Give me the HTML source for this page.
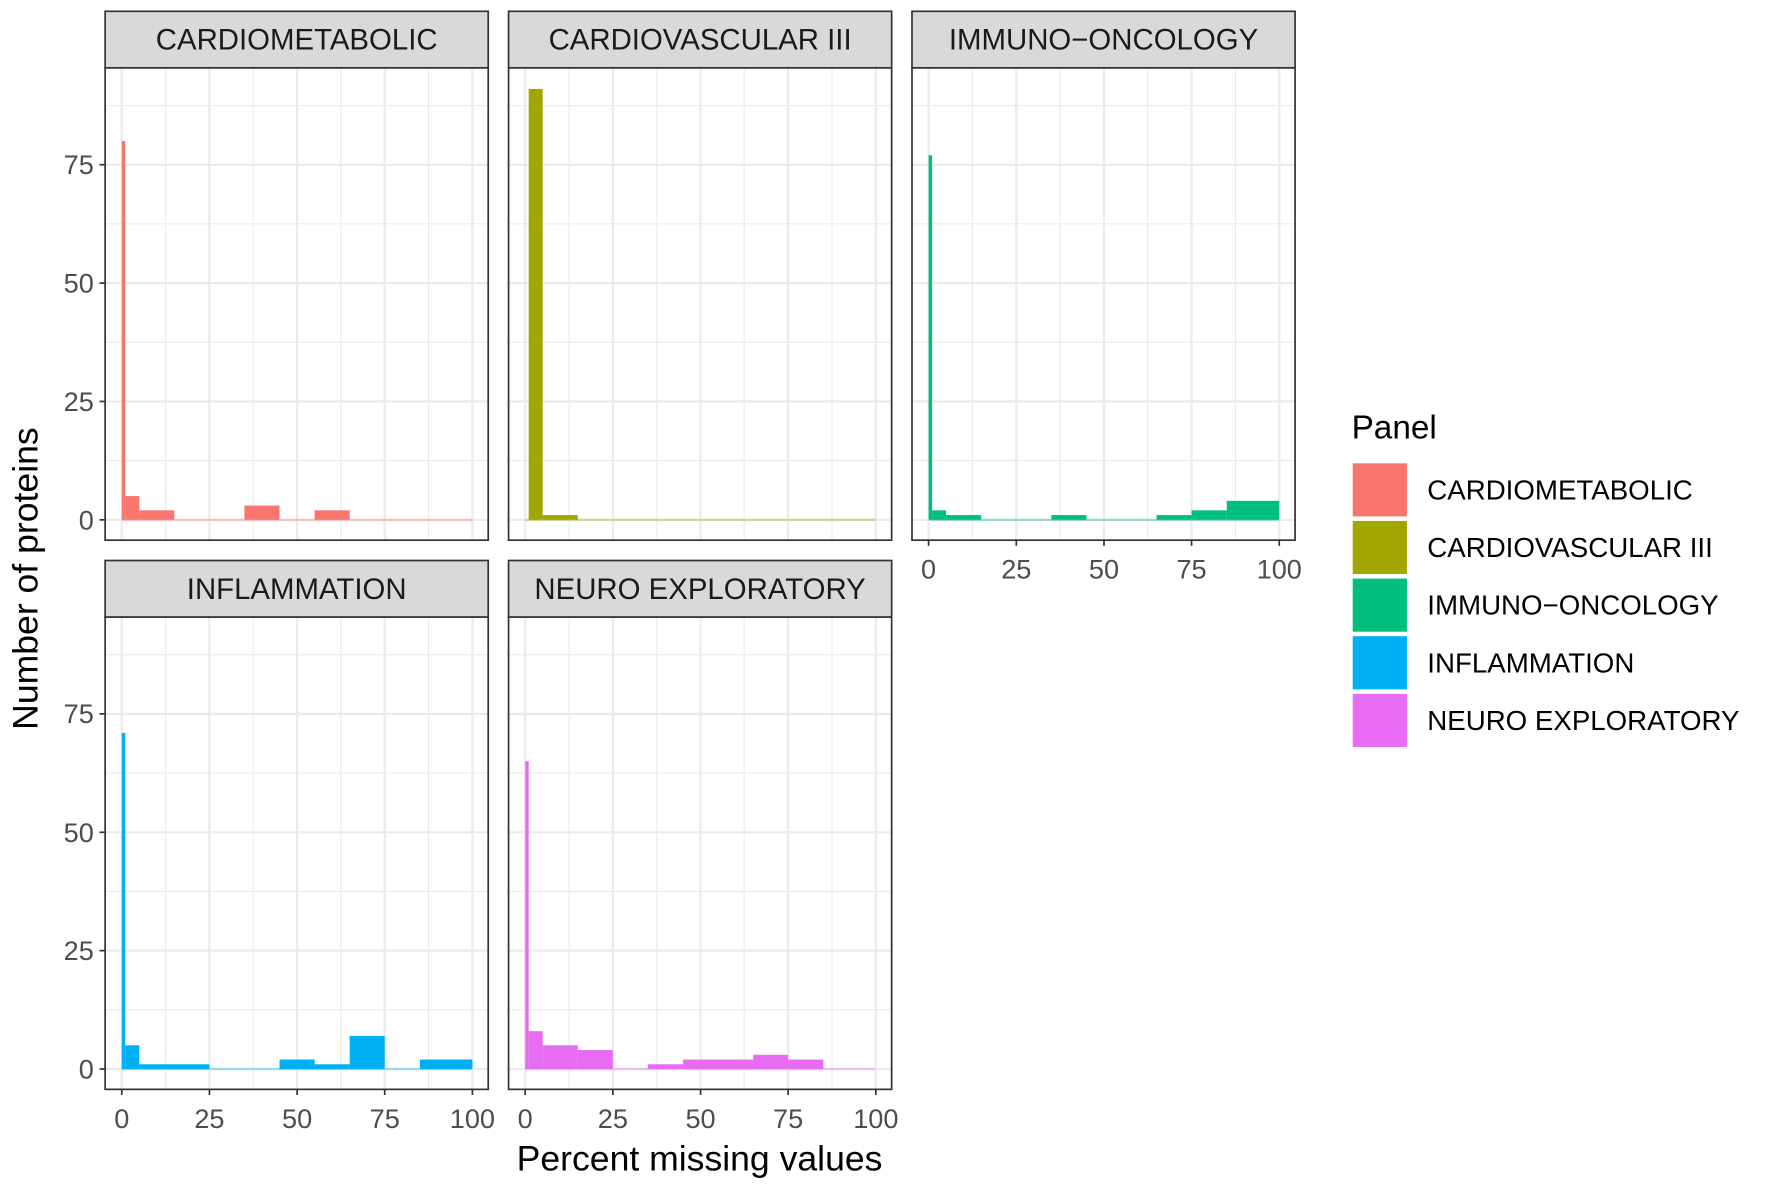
<!DOCTYPE html>
<html><head><meta charset="utf-8"><style>
html,body{margin:0;padding:0;background:#fff;}
svg{display:block;}
text{font-family:"Liberation Sans",sans-serif;}
.g1{stroke:#ebebeb;stroke-width:2;}
.g2{stroke:#ebebeb;stroke-width:1;}
.yt{font-size:24px;fill:#4d4d4d;text-anchor:end;}
.xt{font-size:24px;fill:#4d4d4d;text-anchor:middle;}
.st{font-size:26px;fill:#1a1a1a;text-anchor:middle;}
.lg{font-size:24.5px;fill:#000;}
</style></head><body>
<svg width="1772" height="1187" viewBox="0 0 1568 1050.4" xmlns="http://www.w3.org/2000/svg">
<rect width="1568" height="1051" fill="#fff"/>
<defs>
<g id="grid">
<rect x="0" y="0" width="339" height="418" fill="#fff"/>
<line class="g2" x1="0" x2="339" y1="347.6" y2="347.6"/><line class="g2" x1="0" x2="339" y1="242.9" y2="242.9"/><line class="g2" x1="0" x2="339" y1="138.1" y2="138.1"/><line class="g2" x1="0" x2="339" y1="33.4" y2="33.4"/>
<line class="g2" y1="0" y2="418" x1="53.5" x2="53.5"/><line class="g2" y1="0" y2="418" x1="131.1" x2="131.1"/><line class="g2" y1="0" y2="418" x1="208.5" x2="208.5"/><line class="g2" y1="0" y2="418" x1="286.2" x2="286.2"/>
<line class="g1" x1="0" x2="339" y1="400" y2="400"/><line class="g1" x1="0" x2="339" y1="295.25" y2="295.25"/><line class="g1" x1="0" x2="339" y1="190.5" y2="190.5"/><line class="g1" x1="0" x2="339" y1="85.75" y2="85.75"/>
<line class="g1" y1="0" y2="418" x1="14.7" x2="14.7"/><line class="g1" y1="0" y2="418" x1="92.3" x2="92.3"/><line class="g1" y1="0" y2="418" x1="169.9" x2="169.9"/><line class="g1" y1="0" y2="418" x1="247.4" x2="247.4"/><line class="g1" y1="0" y2="418" x1="325" x2="325"/>
</g>
<g id="frame">
<rect x="0" y="0" width="339" height="418" fill="none" stroke="#333" stroke-width="1.5"/>
<rect x="0" y="-50" width="339" height="50" fill="#d9d9d9" stroke="#333" stroke-width="1.5"/>
</g>
<g id="yax">
<g stroke="#333" stroke-width="1.5"><line x1="-5" x2="0" y1="400" y2="400"/><line x1="-5" x2="0" y1="295.25" y2="295.25"/><line x1="-5" x2="0" y1="190.5" y2="190.5"/><line x1="-5" x2="0" y1="85.75" y2="85.75"/></g>
<text class="yt" x="-10" y="408.5">0</text><text class="yt" x="-10" y="303.5">25</text><text class="yt" x="-10" y="199">50</text><text class="yt" x="-10" y="94">75</text>
</g>
<g id="xax">
<g stroke="#333" stroke-width="1.5"><line y1="418" y2="423" x1="14.7" x2="14.7"/><line y1="418" y2="423" x1="92.3" x2="92.3"/><line y1="418" y2="423" x1="169.9" x2="169.9"/><line y1="418" y2="423" x1="247.4" x2="247.4"/><line y1="418" y2="423" x1="325" x2="325"/></g>
<text class="xt" x="14.7" y="452">0</text><text class="xt" x="92.3" y="452">25</text><text class="xt" x="169.9" y="452">50</text><text class="xt" x="247.4" y="452">75</text><text class="xt" x="325" y="452">100</text>
</g>
</defs>

<g transform="translate(93,60)">
<use href="#grid"/>
<g fill="#F8766D">
<line x1="14.7" x2="325" y1="400" y2="400" stroke="#F8766D" stroke-opacity="0.35" stroke-width="2"/>
<rect x="14.7" y="64.8" width="3.1" height="335.2"/>
<rect x="17.8" y="379" width="12.4" height="21"/>
<rect x="30.2" y="391.6" width="31" height="8.4"/>
<rect x="123.3" y="387.4" width="31" height="12.6"/>
<rect x="185.4" y="391.6" width="31" height="8.4"/>
</g>
<use href="#frame"/><use href="#yax"/>
<text class="st" x="169.5" y="-16">CARDIOMETABOLIC</text>
</g>

<g transform="translate(450,60)">
<use href="#grid"/>
<g fill="#A3A500">
<line x1="14.7" x2="325" y1="400" y2="400" stroke="#A3A500" stroke-opacity="0.35" stroke-width="2"/>
<rect x="17.8" y="18.7" width="12.4" height="381.3"/>
<rect x="30.2" y="395.8" width="31" height="4.2"/>
</g>
<use href="#frame"/>
<text class="st" x="169.5" y="-16">CARDIOVASCULAR III</text>
</g>

<g transform="translate(807,60)">
<use href="#grid"/>
<g fill="#00BF7D">
<line x1="14.7" x2="325" y1="400" y2="400" stroke="#00BF7D" stroke-opacity="0.35" stroke-width="2"/>
<rect x="14.7" y="77.4" width="3.1" height="322.6"/>
<rect x="17.8" y="391.6" width="12.4" height="8.4"/>
<rect x="30.2" y="395.8" width="31" height="4.2"/>
<rect x="123.3" y="395.8" width="31" height="4.2"/>
<rect x="216.4" y="395.8" width="31" height="4.2"/>
<rect x="247.4" y="391.6" width="31.1" height="8.4"/>
<rect x="278.5" y="383.2" width="46.5" height="16.8"/>
</g>
<use href="#frame"/><use href="#xax"/>
<text class="st" x="169.5" y="-16">IMMUNO−ONCOLOGY</text>
</g>

<g transform="translate(93,546)">
<use href="#grid"/>
<g fill="#00B0F6">
<line x1="14.7" x2="325" y1="400" y2="400" stroke="#00B0F6" stroke-opacity="0.35" stroke-width="2"/>
<rect x="14.7" y="102.5" width="3.1" height="297.5"/>
<rect x="17.8" y="379" width="12.4" height="21"/>
<rect x="30.2" y="395.8" width="62.1" height="4.2"/>
<rect x="154.3" y="391.6" width="31.1" height="8.4"/>
<rect x="185.4" y="395.8" width="31" height="4.2"/>
<rect x="216.4" y="370.7" width="31" height="29.3"/>
<rect x="278.5" y="391.6" width="46.5" height="8.4"/>
</g>
<use href="#frame"/><use href="#yax"/><use href="#xax"/>
<text class="st" x="169.5" y="-16">INFLAMMATION</text>
</g>

<g transform="translate(450,546)">
<use href="#grid"/>
<g fill="#E76BF3">
<line x1="14.7" x2="325" y1="400" y2="400" stroke="#E76BF3" stroke-opacity="0.35" stroke-width="2"/>
<rect x="14.7" y="127.6" width="3.1" height="272.4"/>
<rect x="17.8" y="366.5" width="12.4" height="33.5"/>
<rect x="30.2" y="379" width="31" height="21"/>
<rect x="61.2" y="383.2" width="31.1" height="16.8"/>
<rect x="123.3" y="395.8" width="31" height="4.2"/>
<rect x="154.3" y="391.6" width="62.1" height="8.4"/>
<rect x="216.4" y="387.4" width="31" height="12.6"/>
<rect x="247.4" y="391.6" width="31.1" height="8.4"/>
</g>
<use href="#frame"/><use href="#xax"/>
<text class="st" x="169.5" y="-16">NEURO EXPLORATORY</text>
</g>

<text x="619" y="1036" font-size="31.5" text-anchor="middle" fill="#000">Percent missing values</text>
<text transform="translate(33,512) rotate(-90)" font-size="31.5" text-anchor="middle" fill="#000">Number of proteins</text>

<text x="1196" y="388" font-size="29.5" fill="#000">Panel</text>
<rect x="1197" y="410" width="48" height="47" fill="#F8766D"/>
<rect x="1197" y="461" width="48" height="47" fill="#A3A500"/>
<rect x="1197" y="512" width="48" height="47" fill="#00BF7D"/>
<rect x="1197" y="563" width="48" height="47" fill="#00B0F6"/>
<rect x="1197" y="614" width="48" height="47" fill="#E76BF3"/>
<text class="lg" x="1263" y="442">CARDIOMETABOLIC</text>
<text class="lg" x="1263" y="493">CARDIOVASCULAR III</text>
<text class="lg" x="1263" y="544">IMMUNO−ONCOLOGY</text>
<text class="lg" x="1263" y="595">INFLAMMATION</text>
<text class="lg" x="1263" y="646">NEURO EXPLORATORY</text>
</svg>
</body></html>
